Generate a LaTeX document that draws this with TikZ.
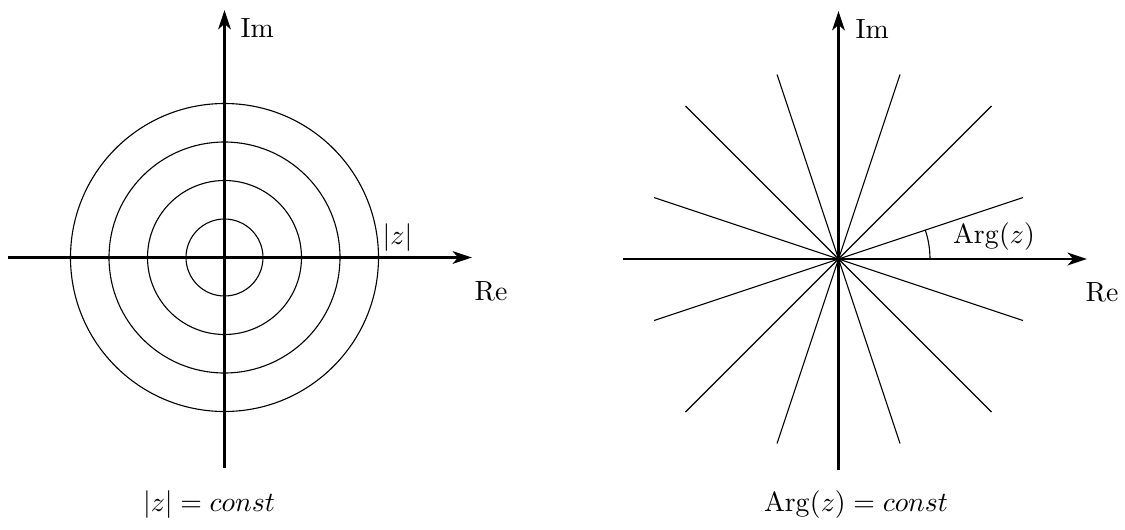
\documentclass[tikz,border=0pt]{standalone}
\usetikzlibrary{arrows.meta}
\begin{document}
\begin{tikzpicture}[x=0.36pt,y=-0.36pt,
  axis/.style={line width=0.85pt,-{Stealth[length=7pt,width=4.6pt,inset=2pt]}},
  thinline/.style={line width=0.4pt},
  lbl/.style={inner sep=0pt,anchor=base}]
\useasboundingbox (0,0) rectangle (1125,529);
% ---------- left picture ----------
\coordinate (O1) at (224.5,257.5);
\coordinate (W1) at (8,257.5);
\coordinate (E1) at (472,257.5);
\coordinate (S1) at (224.5,468);
\coordinate (N1) at (224.5,10);
\foreach \r in {38.5,77,115.5,154} \draw[thinline] (O1) circle[radius=\r];
\draw[axis] (W1) -- (E1);
\draw[axis] (S1) -- (N1);
\node[lbl,anchor=base west] (im1) at (240,37) {Im};
\node[lbl] (absz) at (397.5,244) {$|z|$};
\node[lbl,anchor=base west] (re1) at (474,300) {Re};
\node[lbl] (t1) at (209,511.7) {$|z| = const$};
% ---------- right picture ----------
\coordinate (O2) at (838.5,259);
\coordinate (W2) at (623,259);
\coordinate (E2) at (1087,259);
\coordinate (S2) at (838.5,470);
\coordinate (N2) at (838.5,11);
\foreach \dx/\dy in {61.5/184.5,153/153,184.5/61.5} {
  \draw[thinline] ([shift={(\dx,-\dy)}]O2) -- ([shift={(-\dx,\dy)}]O2);
  \draw[thinline] ([shift={(-\dx,-\dy)}]O2) -- ([shift={(\dx,\dy)}]O2);
}
\draw[thinline] ([shift={(91.5,0)}]O2) arc[start angle=0,end angle=-18.43,radius=91.5];
\draw[axis] (W2) -- (E2);
\draw[axis] (S2) -- (N2);
\node[lbl,anchor=base west] (im2) at (855,38) {Im};
\node[lbl] (argz) at (994,243) {$\mathrm{Arg}(z)$};
\node[lbl,anchor=base west] (re2) at (1085,301.5) {Re};
\node[lbl] (t2) at (856,511.7) {$\mathrm{Arg}(z) = const$};
\end{tikzpicture}
\end{document}
